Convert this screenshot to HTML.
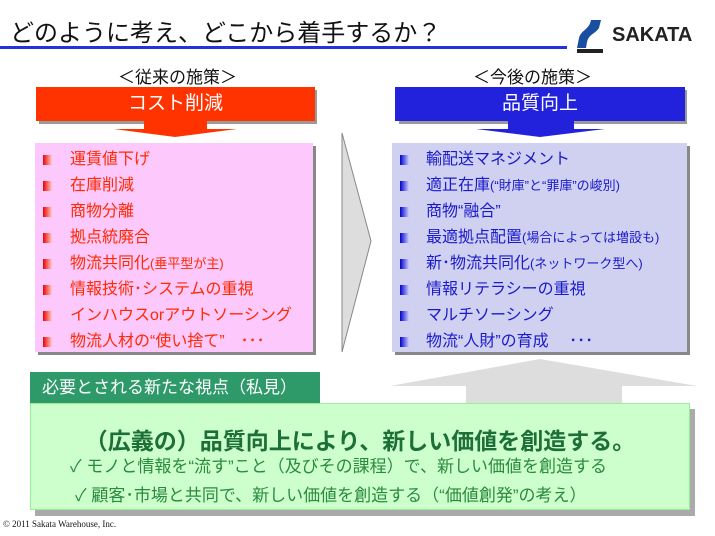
<!DOCTYPE html>
<html><head><meta charset="utf-8"><style>
*{margin:0;padding:0;box-sizing:border-box}
body{width:715px;height:536px;background:#fff;position:relative;overflow:hidden;font-family:"Liberation Sans","Noto Sans CJK JP",sans-serif}
.a{position:absolute;white-space:nowrap}
.li{position:absolute;font-size:16px;line-height:20px}
.b{position:absolute;width:9px;height:10px}
</style></head><body>
<div class="a" style="left:10px;top:13px;font-size:24px;color:#111">どのように考え、どこから着手するか？</div>
<div class="a" style="left:0;top:46px;width:567px;height:3px;background:#2233dd"></div>
<svg class="a" style="left:575px;top:18px" width="30" height="36"><path d="M16 2 L26 2 L24 10 C20 16 14 16 12 24 L11 30 L2 30 L4 20 C6 12 14 12 16 2Z" fill="#1a4fa0"/><rect x="2" y="31" width="26" height="4" fill="#222"/></svg>
<div class="a" style="left:612px;top:24px;font-size:20px;font-weight:bold;color:#222">SAKATA</div>

<div class="a" style="left:118px;top:63px;font-size:17px;color:#111">＜従来の施策＞</div>
<div class="a" style="left:473px;top:63px;font-size:17px;color:#111">＜今後の施策＞</div>

<div class="a" style="left:39px;top:90px;width:278px;height:34px;background:#999"></div>
<div class="a" style="left:36px;top:87px;width:279px;height:34px;background:#ff3300;color:#fff;font-size:19px;line-height:34px;text-align:center">コスト削減</div>
<div class="a" style="left:399px;top:90px;width:288px;height:34px;background:#999"></div>
<div class="a" style="left:395px;top:87px;width:290px;height:34px;background:#2222dd;color:#fff;font-size:19px;line-height:34px;text-align:center">品質向上</div>
<svg class="a" style="left:0;top:120px" width="715" height="20"><path d="M144 1 L207 1 L207 9 L237 9 L175 17 L114 9 L144 9Z" fill="#ff3300"/><path d="M508 1 L574 1 L574 9 L605 9 L540 17 L476 9 L508 9Z" fill="#2222dd"/></svg>

<div class="a" style="left:38px;top:146px;width:278px;height:209px;background:#888"></div>
<div class="a" style="left:35px;top:143px;width:278px;height:209px;background:#fdc8fb"></div>
<div class="a" style="left:395px;top:146px;width:295px;height:209px;background:#888"></div>
<div class="a" style="left:392px;top:143px;width:295px;height:209px;background:#d0d0f0"></div>

<svg class="a" style="left:338px;top:130px" width="40" height="228"><path d="M4 3 L33 111 L4 222Z" fill="#ddd" stroke="#888" stroke-width="1"/></svg>

<div style="color:#ff2a00">
<div class="b" style="left:43px;top:155px;background:linear-gradient(90deg,#e00,#fcc)"></div><div class="li" style="left:70px;top:150px">運賃値下げ</div>
<div class="b" style="left:43px;top:181px;background:linear-gradient(90deg,#e00,#fcc)"></div><div class="li" style="left:70px;top:176px">在庫削減</div>
<div class="b" style="left:43px;top:207px;background:linear-gradient(90deg,#e00,#fcc)"></div><div class="li" style="left:70px;top:202px">商物分離</div>
<div class="b" style="left:43px;top:233px;background:linear-gradient(90deg,#e00,#fcc)"></div><div class="li" style="left:70px;top:228px">拠点統廃合</div>
<div class="b" style="left:43px;top:259px;background:linear-gradient(90deg,#e00,#fcc)"></div><div class="li" style="left:70px;top:254px">物流共同化<span style="font-size:13px">(垂平型が主)</span></div>
<div class="b" style="left:43px;top:285px;background:linear-gradient(90deg,#e00,#fcc)"></div><div class="li" style="left:70px;top:280px">情報技術･システムの重視</div>
<div class="b" style="left:43px;top:311px;background:linear-gradient(90deg,#e00,#fcc)"></div><div class="li" style="left:70px;top:306px">インハウスorアウトソーシング</div>
<div class="b" style="left:43px;top:337px;background:linear-gradient(90deg,#e00,#fcc)"></div><div class="li" style="left:70px;top:332px">物流人材の“使い捨て”　･･･</div>
</div>
<div style="color:#1a1acc">
<div class="b" style="left:400px;top:155px;background:linear-gradient(90deg,#00c,#ccf)"></div><div class="li" style="left:426px;top:150px">輸配送マネジメント</div>
<div class="b" style="left:400px;top:181px;background:linear-gradient(90deg,#00c,#ccf)"></div><div class="li" style="left:426px;top:176px">適正在庫<span style="font-size:13px">(“財庫”と“罪庫”の峻別)</span></div>
<div class="b" style="left:400px;top:207px;background:linear-gradient(90deg,#00c,#ccf)"></div><div class="li" style="left:426px;top:202px">商物“融合”</div>
<div class="b" style="left:400px;top:233px;background:linear-gradient(90deg,#00c,#ccf)"></div><div class="li" style="left:426px;top:228px">最適拠点配置<span style="font-size:13px">(場合によっては増設も)</span></div>
<div class="b" style="left:400px;top:259px;background:linear-gradient(90deg,#00c,#ccf)"></div><div class="li" style="left:426px;top:254px">新･物流共同化<span style="font-size:13px">(ネットワーク型へ)</span></div>
<div class="b" style="left:400px;top:285px;background:linear-gradient(90deg,#00c,#ccf)"></div><div class="li" style="left:426px;top:280px">情報リテラシーの重視</div>
<div class="b" style="left:400px;top:311px;background:linear-gradient(90deg,#00c,#ccf)"></div><div class="li" style="left:426px;top:306px">マルチソーシング</div>
<div class="b" style="left:400px;top:337px;background:linear-gradient(90deg,#00c,#ccf)"></div><div class="li" style="left:426px;top:332px">物流“人財”の育成　 ･･･</div>
</div>

<svg class="a" style="left:0;top:355px" width="715" height="60"><path d="M540 4 L697 31 L622 31 L622 60 L466 60 L466 31 L390 31Z" fill="#ddd"/></svg>

<div class="a" style="left:35px;top:409px;width:660px;height:107px;background:#aaa"></div>
<div class="a" style="left:30px;top:403px;width:660px;height:107px;background:#ccffcc;border:1px solid #99ee99"></div>
<div class="a" style="left:30px;top:372px;width:290px;height:31px;background:#2e9a6a;color:#fff;font-size:17px;line-height:31px;padding-left:12px">必要とされる新たな視点（私見）</div>
<div class="a" style="left:30px;top:422px;width:660px;text-align:center;font-size:23px;font-weight:bold;color:#1d6e38">（広義の）品質向上により、新しい価値を創造する。</div>
<div class="a" style="left:70px;top:452px;font-size:17px;color:#2b8a3e">✓ モノと情報を“流す”こと（及びその課程）で、新しい価値を創造する</div>
<div class="a" style="left:75px;top:481px;font-size:17px;color:#2b8a3e">✓ 顧客･市場と共同で、新しい価値を創造する（“価値創発”の考え）</div>
<div class="a" style="left:3px;top:519px;font-size:9px;font-family:'Liberation Serif',serif;color:#111">© 2011 Sakata Warehouse, Inc.</div>
</body></html>
